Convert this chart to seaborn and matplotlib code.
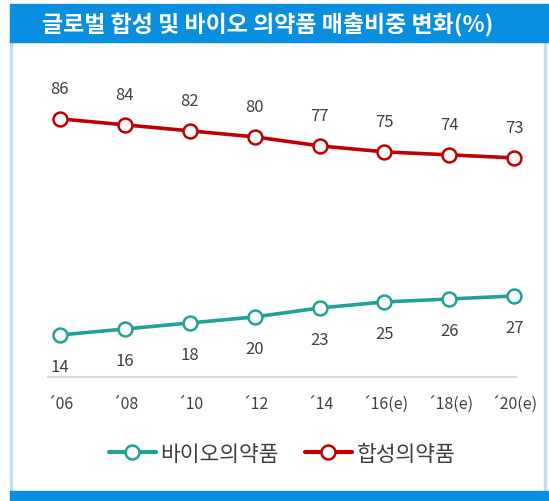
import pandas as pd
import matplotlib.pyplot as plt
import seaborn as sns
from matplotlib.patches import Rectangle
from matplotlib.lines import Line2D

# 데이터
years = ['´06', '´08', '´10', '´12', '´14', '´16(e)', '´18(e)', '´20(e)']
synthetic = [86, 84, 82, 80, 77, 75, 74, 73]
bio = [14, 16, 18, 20, 23, 25, 26, 27]
title = '글로벌 합성 및 바이오 의약품 매출비중 변화(%)'

red = '#C00000'
teal = '#1FA398'
blue = '#0A8EE0'

sns.set_theme(style='white')
plt.rcParams['font.family'] = ['Noto Sans CJK KR', 'DejaVu Sans']

df = pd.DataFrame({'pos': range(len(years)), 'syn': synthetic, 'bio': bio})

fig = plt.figure(figsize=(5.49, 5.02), dpi=100)
ax = fig.add_axes([0.088, 0.247, 0.851, 0.598])

for col, c in [('syn', red), ('bio', teal)]:
    sns.lineplot(data=df, x='pos', y=col, ax=ax, color=c, linewidth=2.6,
                 marker='o', markersize=10, markerfacecolor='white',
                 markeredgecolor=c, markeredgewidth=1.8, clip_on=False)

# 값 라벨
for i, v in enumerate(synthetic):
    ax.annotate(str(v), (i, v), xytext=(0, 22), textcoords='offset points',
                ha='center', va='center', fontsize=12, color='#404040')
for i, v in enumerate(bio):
    ax.annotate(str(v), (i, v), xytext=(0, -23), textcoords='offset points',
                ha='center', va='center', fontsize=12, color='#404040')

ax.set_xlim(-0.18, 7.02)
ax.set_ylim(0, 100)
ax.set_xticks(range(len(years)))
ax.set_xticklabels(years, fontsize=11.5, color='#404040')
ax.tick_params(axis='x', length=0, pad=13)
ax.set_yticks([])
ax.set_xlabel('')
ax.set_ylabel('')
for s in ['top', 'right', 'left']:
    ax.spines[s].set_visible(False)
ax.spines['bottom'].set_color('#D9D9D9')
ax.spines['bottom'].set_linewidth(1.6)
ax.patch.set_alpha(0)

# 테두리와 제목 막대
W, H = 549, 502
fig.patches.append(Rectangle((10 / W, 0), 1.5 / W, 1 - 5 / H, transform=fig.transFigure,
                             color='#BFDDF5', zorder=0))
fig.patches.append(Rectangle((544 / W, 0), 1.5 / W, 1 - 5 / H, transform=fig.transFigure,
                             color='#BFDDF5', zorder=0))
fig.patches.append(Rectangle((10 / W, 1 - 43 / H), 1, 38 / H, transform=fig.transFigure,
                             color=blue, zorder=1))
fig.patches.append(Rectangle((10 / W, 0), 1, 10 / H, transform=fig.transFigure,
                             color=blue, zorder=1))
fig.text(268 / W, 1 - 25 / H, title, ha='center', va='center', color='white',
         fontsize=16.5, fontweight='bold')

# 범례
handles = [
    Line2D([], [], color=teal, linewidth=3, marker='o', markersize=10,
           markerfacecolor='white', markeredgecolor=teal, markeredgewidth=1.8),
    Line2D([], [], color=red, linewidth=3, marker='o', markersize=10,
           markerfacecolor='white', markeredgecolor=red, markeredgewidth=1.8),
]
fig.legend(handles, ['바이오의약품', '합성의약품'], loc='center',
           bbox_to_anchor=(282 / W, 1 - 455 / H), ncol=2, frameon=False,
           fontsize=15.5, handlelength=2.2, handletextpad=0.2, columnspacing=1.2,
           labelcolor='#404040')

plt.savefig('out.png', dpi=100)
